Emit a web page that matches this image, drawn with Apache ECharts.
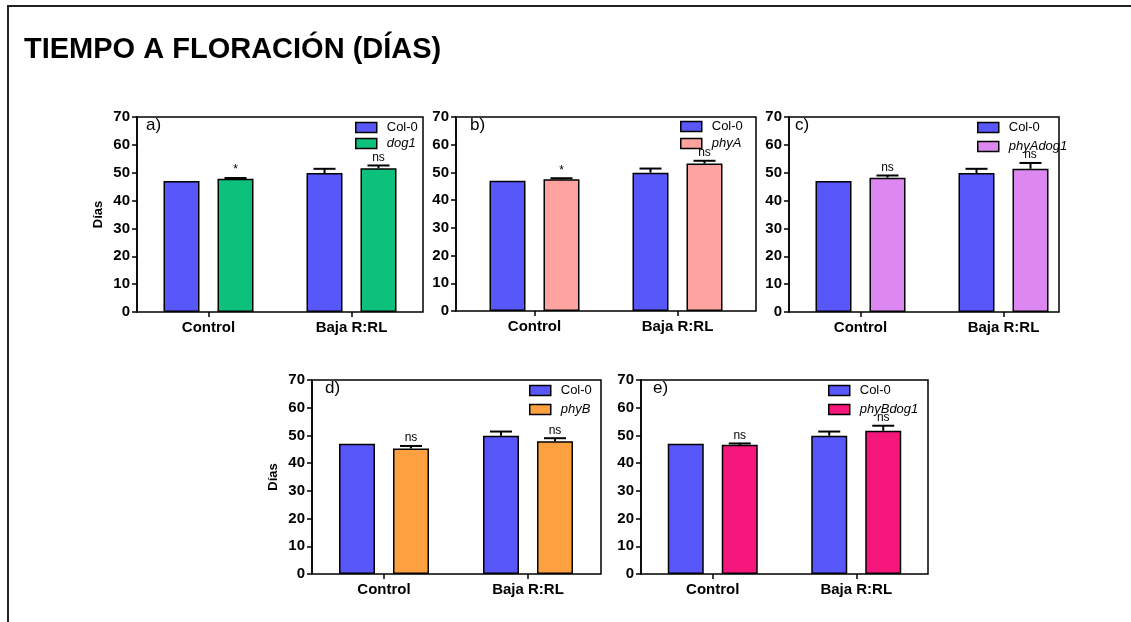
<!DOCTYPE html>
<html>
<head>
<meta charset="utf-8">
<script src="https://cdn.jsdelivr.net/npm/echarts@6/dist/echarts.min.js"></script>
<style>
html,body{margin:0;padding:0;background:#fff;}
#chart{width:1131px;height:622px;}
</style>
</head>
<body>
<div id="chart"></div>
<script>
// ---------------- DATA ----------------
const categories = ['Control', 'Baja R:RL'];
const yMin = 0, yMax = 70, yStep = 10;

const col0Mean = [47.0, 49.9];
const col0Err  = [0.0, 1.5];

const dog1Mean = [47.8, 51.6];
const dog1Err  = [0.3, 1.0];
const dog1Sig  = ['*', 'ns'];

const phyAMean = [47.5, 53.2];
const phyAErr  = [0.4, 1.0];
const phyASig  = ['*', 'ns'];

const phyAdog1Mean = [48.2, 51.4];
const phyAdog1Err  = [0.8, 2.1];
const phyAdog1Sig  = ['ns', 'ns'];

const phyBMean = [45.3, 47.9];
const phyBErr  = [0.9, 1.1];
const phyBSig  = ['ns', 'ns'];

const phyBdog1Mean = [46.6, 51.7];
const phyBdog1Err  = [0.5, 1.8];
const phyBdog1Sig  = ['ns', 'ns'];

const panelLabels = ['a)', 'b)', 'c)', 'd)', 'e)'];
const mutantNames = ['dog1', 'phyA', 'phyAdog1', 'phyB', 'phyBdog1'];
const yAxisTitle = 'Días';
const mainTitle = 'TIEMPO A FLORACIÓN (DÍAS)';

// ---------------- STYLE / LAYOUT ----------------
const FONT = 'Liberation Sans, Arial, Helvetica, sans-serif';
const col0Color = '#5757FA';
const mutantColors = ['#0DC07B', '#FFA3A1', '#DD88F0', '#FFA040', '#F5177C'];
const mutantMeans = [dog1Mean, phyAMean, phyAdog1Mean, phyBMean, phyBdog1Mean];
const mutantErrs = [dog1Err, phyAErr, phyAdog1Err, phyBErr, phyBdog1Err];
const mutantSigs = [dog1Sig, phyASig, phyAdog1Sig, phyBSig, phyBdog1Sig];

const layout = [
  {frame:[137,117,286,195], dataLeft:137, dataW:286, yOff:0, yName:true,  legend:[355,121,3], label:[146,117]},
  {frame:[456,117,300,194], dataLeft:463, dataW:286, yOff:7, yName:false, legend:[680,120,4], label:[470,117]},
  {frame:[789,117,270,195], dataLeft:789, dataW:286, yOff:0, yName:false, legend:[977,121,6], label:[795,117]},
  {frame:[312,380,289,194], dataLeft:312, dataW:288, yOff:0, yName:true,  legend:[529,384,6], label:[325,380]},
  {frame:[641,380,287,194], dataLeft:641, dataW:287, yOff:0, yName:false, legend:[828,384,6], label:[653,380]}
];

const BAR_W = 36, HALF_OFF = 27, CAP = 22;

const grid = [], xAxis = [], yAxis = [], series = [], legend = [];
const title = [{
  text: mainTitle, left: 24, top: 35, padding: 0,
  textStyle: {fontFamily: FONT, fontSize: 29, fontWeight: 'bold', color: '#000'}
}];

function errSeries(name, means, errs, sigs, axisIdx, offset) {
  return {
    type: 'custom', name: name + ' err', xAxisIndex: axisIdx, yAxisIndex: axisIdx,
    clip: false, z: 5, silent: true,
    encode: {x: 0, y: 1},
    data: means.map((m, i) => [i, m, errs[i]]),
    renderItem: function (params, api) {
      const ci = api.value(0), m = api.value(1), e = api.value(2);
      const p0 = api.coord([ci, m]);
      const p1 = api.coord([ci, m + e]);
      const x = p0[0] + offset;
      const children = [];
      if (e > 0) {
        children.push({type: 'line', shape: {x1: x, y1: p0[1], x2: x, y2: p1[1]}, style: {stroke: '#000', lineWidth: 2}});
        children.push({type: 'line', shape: {x1: x - CAP / 2, y1: p1[1], x2: x + CAP / 2, y2: p1[1]}, style: {stroke: '#000', lineWidth: 2}});
      }
      if (sigs) {
        children.push({type: 'text', x: x, y: p1[1] - 2,
          style: {text: sigs[params.dataIndex], fill: '#000', fontSize: 12, fontFamily: FONT,
                  align: 'center', verticalAlign: 'bottom'}});
      }
      return {type: 'group', children: children};
    }
  };
}

layout.forEach((L, p) => {
  const fi = 2 * p, di = 2 * p + 1;
  // frame grid (box only)
  grid.push({left: L.frame[0], top: L.frame[1], width: L.frame[2], height: L.frame[3],
             show: true, borderColor: '#000', borderWidth: 1.5, backgroundColor: 'transparent',
             containLabel: false});
  xAxis.push({type: 'value', gridIndex: fi, show: false, min: 0, max: 1});
  yAxis.push({type: 'value', gridIndex: fi, show: false, min: 0, max: 1});
  // data grid
  grid.push({left: L.dataLeft, top: L.frame[1], width: L.dataW, height: L.frame[3],
             show: false, containLabel: false});
  xAxis.push({
    type: 'category', gridIndex: di, data: categories,
    axisLine: {show: false},
    axisTick: {show: true, alignWithLabel: true, length: 5, lineStyle: {color: '#000', width: 1.5}},
    axisLabel: {color: '#000', fontFamily: FONT, fontWeight: 'bold', fontSize: 15, margin: 8},
    splitLine: {show: false}
  });
  yAxis.push({
    type: 'value', gridIndex: di, min: yMin, max: yMax, interval: yStep, offset: L.yOff,
    axisLine: {show: true, lineStyle: {color: '#000', width: 1.5}},
    axisTick: {show: true, length: 5, lineStyle: {color: '#000', width: 1.5}},
    axisLabel: {color: '#000', fontFamily: FONT, fontWeight: 'bold', fontSize: 15, margin: 7},
    splitLine: {show: false},
    name: L.yName ? yAxisTitle : '', nameLocation: 'middle', nameGap: 32, nameRotate: 90,
    nameTextStyle: {color: '#000', fontFamily: FONT, fontWeight: 'bold', fontSize: 13}
  });
  const mName = mutantNames[p];
  series.push({
    type: 'bar', name: 'Col-0', xAxisIndex: di, yAxisIndex: di, data: col0Mean,
    barWidth: BAR_W, barGap: '50%', z: 2,
    itemStyle: {color: col0Color, borderColor: '#000', borderWidth: 1.5}
  });
  series.push({
    type: 'bar', name: mName, xAxisIndex: di, yAxisIndex: di, data: mutantMeans[p],
    barWidth: BAR_W, barGap: '50%', z: 2,
    itemStyle: {color: mutantColors[p], borderColor: '#000', borderWidth: 1.5}
  });
  series.push(errSeries('Col-0', col0Mean, col0Err, null, di, -HALF_OFF));
  series.push(errSeries(mName, mutantMeans[p], mutantErrs[p], mutantSigs[p], di, HALF_OFF));
  legend.push({
    data: ['Col-0', mName], orient: 'vertical', left: L.legend[0], top: L.legend[1],
    itemWidth: 21, itemHeight: 10, itemGap: L.legend[2], padding: 0, selectedMode: false,
    icon: 'rect', align: 'left',
    itemStyle: {borderColor: '#000', borderWidth: 1.5},
    formatter: function (n) { return n === 'Col-0' ? n : '{i|' + n + '}'; },
    textStyle: {color: '#000', fontFamily: FONT, fontSize: 13, padding: [0, 0, 0, 5],
                rich: {i: {fontStyle: 'italic', fontSize: 13, fontFamily: FONT, color: '#000'}}}
  });
  title.push({
    text: panelLabels[p], left: L.label[0], top: L.label[1], padding: 0,
    textStyle: {fontFamily: FONT, fontSize: 17, fontWeight: 'normal', color: '#000'}
  });
});

const chart = echarts.init(document.getElementById('chart'), null, {renderer: 'canvas'});
chart.setOption({
  animation: false,
  backgroundColor: '#fff',
  title: title,
  grid: grid,
  xAxis: xAxis,
  yAxis: yAxis,
  legend: legend,
  series: series,
  graphic: [
    {type: 'line', shape: {x1: 7, y1: 6, x2: 1131, y2: 6}, style: {stroke: '#222', lineWidth: 2}},
    {type: 'line', shape: {x1: 8, y1: 6, x2: 8, y2: 622}, style: {stroke: '#222', lineWidth: 2}}
  ]
});
</script>
</body>
</html>
